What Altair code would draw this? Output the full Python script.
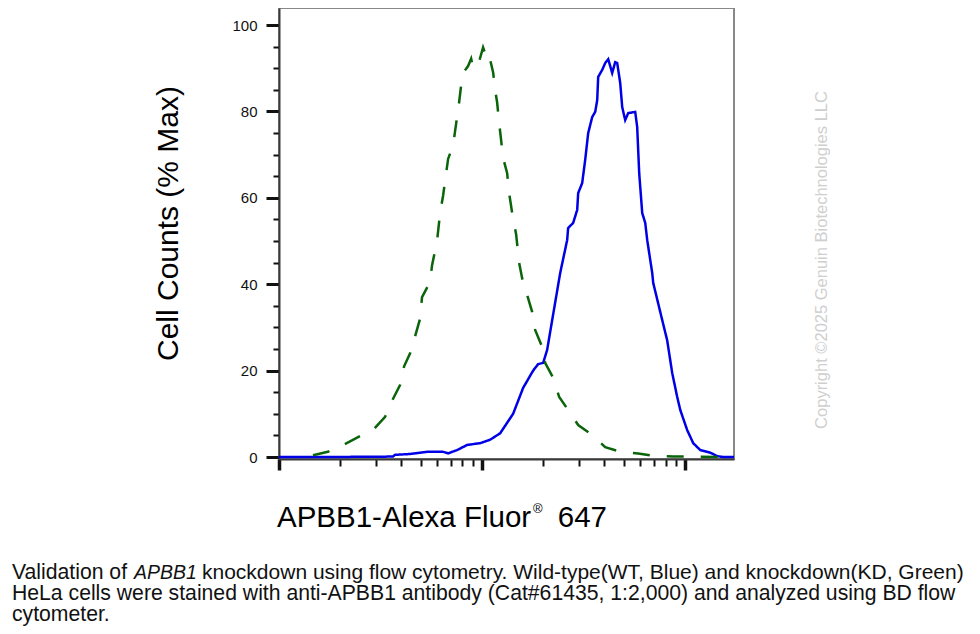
import altair as alt
import pandas as pd

# ---- data (fluorescence, % of max) ----
wt_x = [100, 178, 364, 372, 442, 536, 643, 680, 753, 844, 977, 1095, 1227, 1421, 1592,
        1783, 1887, 1998, 2090, 2213, 2423, 2622, 2652, 2807, 2938, 2971, 3109, 3217,
        3329, 3483, 3604, 3686, 3728, 3900, 4036, 4176, 4369, 4520, 4624, 4784, 4894,
        5063, 5239, 5670, 5800, 5934, 6140, 6353, 6500, 6877, 6956, 7703, 8150, 8630,
        9130, 9450, 10230, 10950, 11860, 13280, 14380, 15390, 17380]
wt_y = [0, 0, 0.1, 0.5, 0.7, 1.2, 1.2, 0.85, 1.6, 2.8, 3.2, 4, 5.5, 10, 16,
        20, 21.5, 21.8, 24.8, 31.7, 42.6, 50.2, 53, 54.2, 57.2, 61.1, 63.4, 68.8,
        75, 78.7, 79.9, 82.6, 88, 89.6, 91.2, 92.1, 88.9, 91.4, 91.2, 86.6, 81,
        78, 79.6, 79.9, 76.4, 65.7, 56.5, 54.2, 50.2, 42.6, 40.3, 31.7, 27, 19.4,
        13.9, 10.9, 6.2, 3.2, 1.6, 1, 0.2, 0, 0]

kd_x = [147, 174, 207, 245, 290, 333, 360, 395, 413, 442, 468, 495, 506, 554, 567, 600,
        621, 643, 661, 680, 720, 744, 770, 788, 806, 853, 883, 903, 935, 966, 1011, 1034,
        1058, 1095, 1133, 1159, 1186, 1213, 1240, 1269, 1328, 1359, 1406, 1471, 1521,
        1574, 1666, 1763, 1824, 1975, 2043, 2238, 2395, 2652, 2971, 3483, 4036, 4784,
        5868, 6956, 8730, 10230, 14900]
kd_y = [0.4, 1.2, 2.8, 4.6, 6.2, 9.3, 13, 16.7, 21, 24, 28, 32, 37, 40.5, 44.4, 50,
        56.5, 60.6, 64.8, 69, 72.2, 77, 82, 86, 88.9, 90.5, 92.2, 90, 90.5, 91.5, 94.8, 93.5,
        94.2, 92, 89, 85, 82, 77.3, 73.4, 69.2, 65.7, 61, 56.5, 51.5, 45,
        41.4, 37.5, 33.6, 29.4, 25.5, 21.8, 18.3, 13.9, 10.9, 7.4, 5.1, 2.3, 1.2,
        0.8, 0.3, 0.1, 0.1, 0]

series_names = ["WT", "KD"]
series_colors = ["#0000e6", "#0a640a"]

y_ticks = list(range(0, 101, 5))
y_major = [0, 20, 40, 60, 80, 100]
x_ticks = [100, 200, 300, 400, 500, 600, 700, 800, 900,
           1000, 2000, 3000, 4000, 5000, 6000, 7000, 8000, 9000, 10000]
x_major = [100, 1000, 10000]

y_title = "Cell Counts (% Max)"
x_title_main = "APBB1-Alexa Fluor"
x_title_reg = "®"
x_title_num = "647"
watermark = "Copyright ©2025 Genuin Biotechnologies LLC"
cap1_a = "Validation of"
cap1_b = "APBB1"
cap1_c = "knockdown using flow cytometry. Wild-type(WT, Blue) and knockdown(KD, Green)"
cap2 = "HeLa cells were stained with anti-APBB1 antibody (Cat#61435, 1:2,000) and analyzed using BD flow"
cap3 = "cytometer."

FONT = "Liberation Sans"

df = pd.concat([
    pd.DataFrame({"x": wt_x, "y": wt_y, "series": "WT"}),
    pd.DataFrame({"x": kd_x, "y": kd_y, "series": "KD"}),
], ignore_index=True)

x_major_test = "indexof(" + str(x_major) + ", datum.value) >= 0"
y_major_test = "indexof(" + str(y_major) + ", datum.value) >= 0"

x_axis = alt.Axis(
    values=x_ticks, labels=False, title=None, grid=False,
    domainColor="#3a3a3a", domainWidth=2, tickColor="#111111",
    tickSize={"condition": {"test": x_major_test, "value": 11}, "value": 7},
    tickWidth={"condition": {"test": x_major_test, "value": 3.5}, "value": 2},
)
y_axis = alt.Axis(
    values=y_ticks, grid=False, format="d",
    labelExpr="datum.value % 20 === 0 ? datum.label : ''",
    labelFont=FONT, labelFontSize=15, labelColor="#111111", labelPadding=9,
    domainColor="#3a3a3a", domainWidth=2, tickColor="#111111",
    tickSize={"condition": {"test": y_major_test, "value": 13}, "value": 6},
    tickWidth={"condition": {"test": y_major_test, "value": 3}, "value": 2},
    title=y_title, titleFont=FONT, titleFontSize=30, titleFontWeight="normal",
    titleColor="#000000", titleAngle=270, titleAlign="center", titleBaseline="middle",
    titleX=-111, titleY=215,
)

xscale = alt.Scale(type="log", domain=[100, 17380], nice=False)
yscale = alt.Scale(domain=[-0.46, 103.94], nice=False, zero=False)

lines = alt.Chart(df).mark_line(strokeWidth=2.5, clip=True).encode(
    x=alt.X("x:Q", scale=xscale, axis=x_axis),
    y=alt.Y("y:Q", scale=yscale, axis=y_axis),
    color=alt.Color("series:N", scale=alt.Scale(domain=series_names, range=series_colors), legend=None),
    strokeDash=alt.StrokeDash("series:N",
                              scale=alt.Scale(domain=series_names, range=[[1, 0], [17, 17]]),
                              legend=None),
)

one = pd.DataFrame({"k": [0]})


def txt(text, x, y, size, **kw):
    props = dict(text=text, font=FONT, fontSize=size, align="left", baseline="alphabetic",
                 color="#111111")
    props.update(kw)
    return alt.Chart(one).mark_text(**props).encode(x=alt.value(x), y=alt.value(y))


texts = [
    txt(x_title_main, -2, 519, 29.5, color="#000000"),
    txt(x_title_reg, 254, 505, 13, color="#000000"),
    txt(x_title_num, 328, 519, 29.5, color="#000000", align="right"),
    txt(watermark, 543, 252, 16.5, color="#cfcfcf", align="center", baseline="middle", angle=270),
    txt(cap1_a, -267, 571, 21.2),
    txt(cap1_b, -145, 571, 19.5, fontStyle="italic"),
    txt(cap1_c, -77, 571, 21.0),
    txt(cap2, -267, 592, 21.2),
    txt(cap3, -267, 613, 21.2),
]

chart = alt.layer(lines, *texts).properties(
    width=455, height=451,
    autosize=alt.AutoSizeParams(type="none"),
    padding={"left": 271, "top": 0, "right": 238, "bottom": 167},
    background="white",
).configure_view(stroke="#888888", strokeWidth=2)

chart.save("out.html", embed_options={"renderer": "svg", "actions": False})
